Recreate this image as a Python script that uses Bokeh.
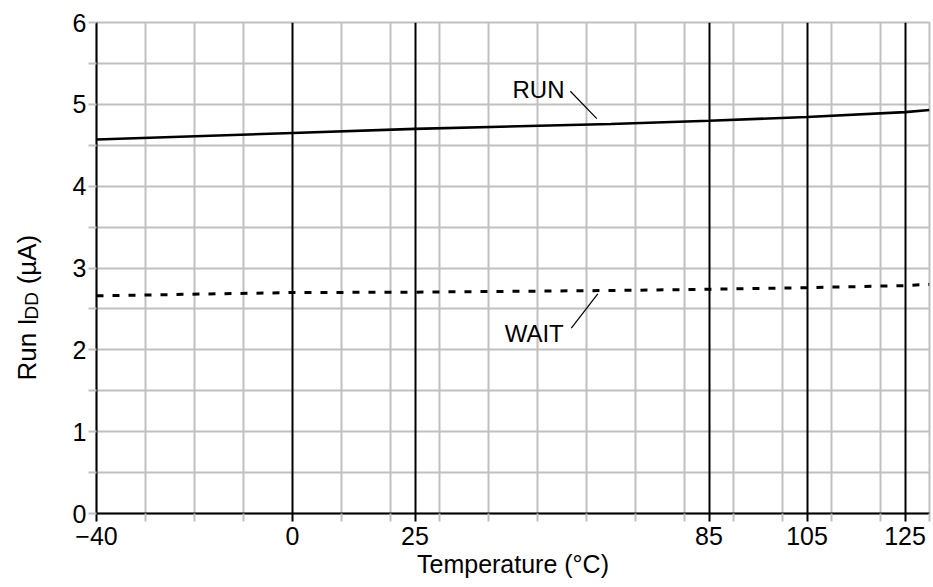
from math import pi
from bokeh.plotting import figure
from bokeh.layouts import row
from bokeh.models import Range1d, FixedTicker, Label
from bokeh.core.properties import value
from bokeh.embed import file_html
from bokeh.resources import INLINE

# ---- data ----
temps = [-40, 0, 25, 65, 85, 105, 125, 130]
run_idd = [4.57, 4.65, 4.70, 4.76, 4.80, 4.845, 4.905, 4.93]
wait_idd = [2.66, 2.70, 2.705, 2.725, 2.74, 2.76, 2.785, 2.80]

x_major = [-40, 0, 25, 85, 105, 125]
x_minor = [-30, -20, -10, 10, 20, 30, 40, 50, 60, 70, 80, 90, 100, 110, 120, 130]
y_major = [0, 1, 2, 3, 4, 5, 6]
y_minor = [0.5, 1.5, 2.5, 3.5, 4.5, 5.5]

x_label = "Temperature (°C)"
y_label_parts = ["Run I", "DD", "(µA)"]
y_label_pos = [1.626, 2.372, 2.80]

# annotation positions (data units)
run_label = ("RUN", 44.9, 5.18)
wait_label = ("WAIT", 43.3, 2.20)
leader_x0 = [56.7, 56.9]
leader_y0 = [5.16, 2.265]
leader_x1 = [62.1, 62.3]
leader_y1 = [4.825, 2.685]

FONT = "Liberation Sans"
GRAY = "#c0c0c0"
SIDE_W = 60
TOTAL_W = 933
H = 587
B_TOP = 22
B_BOT = 74

yr = Range1d(0, 6)

# ---- side panel holding the y-axis title (with subscript) ----
side = figure(width=SIDE_W, height=H, output_backend="svg", toolbar_location=None,
              x_range=Range1d(0, SIDE_W), y_range=yr,
              x_axis_location=None, y_axis_location=None,
              min_border_left=0, min_border_right=0,
              min_border_top=B_TOP, min_border_bottom=B_BOT)
side.outline_line_color = None
side.grid.visible = False
side.text(x=[26], y=[y_label_pos[0]], text=[y_label_parts[0]], angle=pi / 2,
          text_font=value(FONT), text_font_size="26px", text_color="black",
          text_align="left", text_baseline="alphabetic")
side.text(x=[31], y=[y_label_pos[1]], text=[y_label_parts[1]], angle=pi / 2,
          text_font=value(FONT), text_font_size="19px", text_color="black",
          text_align="left", text_baseline="alphabetic")
side.text(x=[26], y=[y_label_pos[2]], text=[y_label_parts[2]], angle=pi / 2,
          text_font=value(FONT), text_font_size="26px", text_color="black",
          text_align="left", text_baseline="alphabetic")

# ---- main chart ----
p = figure(width=TOTAL_W - SIDE_W, height=H, output_backend="svg",
           toolbar_location=None,
           x_range=Range1d(-40, 130), y_range=yr,
           min_border_left=96 - SIDE_W, min_border_right=4,
           min_border_top=B_TOP, min_border_bottom=B_BOT)
p.background_fill_color = "white"
p.outline_line_color = GRAY
p.outline_line_width = 2

xt = FixedTicker(ticks=x_major, minor_ticks=x_minor)
yt = FixedTicker(ticks=y_major, minor_ticks=y_minor)
p.xaxis.ticker = xt
p.yaxis.ticker = yt

for ax in (p.xaxis[0], p.yaxis[0]):
    ax.axis_line_color = "black"
    ax.axis_line_width = 2
    ax.major_tick_in = 0
    ax.major_tick_out = 8
    ax.minor_tick_in = 0
    ax.minor_tick_out = 8
    ax.major_tick_line_width = 2
    ax.minor_tick_line_width = 2
    ax.minor_tick_line_color = GRAY
    ax.major_label_text_font = FONT
    ax.major_label_text_font_size = "25px"
    ax.major_label_text_color = "black"

p.xaxis.major_tick_line_color = "black"
p.yaxis.major_tick_line_color = GRAY
p.xaxis.major_label_standoff = 5
p.yaxis.major_label_standoff = 2

p.xaxis.axis_label = x_label
p.xaxis.axis_label_text_font = FONT
p.xaxis.axis_label_text_font_size = "25px"
p.xaxis.axis_label_text_font_style = "normal"
p.xaxis.axis_label_text_color = "black"
p.xaxis.axis_label_standoff = 2

xg = p.xgrid[0]
yg = p.ygrid[0]
xg.ticker = xt
yg.ticker = yt
xg.grid_line_color = "black"
xg.grid_line_width = 2
xg.minor_grid_line_color = GRAY
xg.minor_grid_line_width = 2
yg.grid_line_color = GRAY
yg.grid_line_width = 2
yg.minor_grid_line_color = GRAY
yg.minor_grid_line_width = 2
p.center = [yg, xg]

# data lines
p.line(temps, wait_idd, line_color="black", line_width=3, line_dash="7 9")
p.line(temps, run_idd, line_color="black", line_width=2.6)

# leader lines
p.segment(x0=leader_x0, y0=leader_y0, x1=leader_x1, y1=leader_y1,
          line_color="black", line_width=1.2)

for txt, lx, ly in (run_label, wait_label):
    p.add_layout(Label(x=lx, y=ly, text=txt, text_font=FONT,
                       text_font_size="24px", text_color="black",
                       text_align="left", text_baseline="alphabetic"))

layout = row(side, p, spacing=0)
open("out.html", "w").write(file_html(layout, INLINE))
